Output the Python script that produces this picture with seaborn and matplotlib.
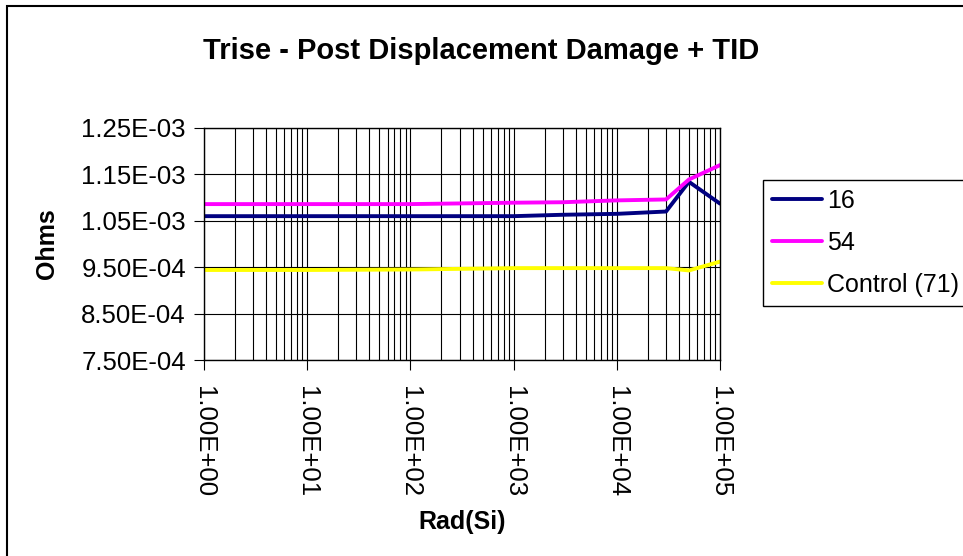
import numpy as np
import pandas as pd
import matplotlib
matplotlib.use('Agg')
import matplotlib.pyplot as plt
import matplotlib.ticker as mticker
from matplotlib.patches import Rectangle
import seaborn as sns

dose = [1, 10, 100, 1000, 3000, 10000, 30000, 50000, 100000]
part_16 = [1.060e-3, 1.060e-3, 1.060e-3, 1.060e-3, 1.063e-3, 1.065e-3, 1.070e-3, 1.134e-3, 1.087e-3]
part_54 = [1.086e-3, 1.086e-3, 1.086e-3, 1.089e-3, 1.090e-3, 1.094e-3, 1.096e-3, 1.139e-3, 1.170e-3]
control_71 = [0.944e-3, 0.944e-3, 0.945e-3, 0.948e-3, 0.948e-3, 0.948e-3, 0.948e-3, 0.943e-3, 0.962e-3]

series_names = ['16', '54', 'Control (71)']
series_colors = ['#000080', '#FF00FF', '#FFFF00']
y_ticks = [7.5e-4, 8.5e-4, 9.5e-4, 1.05e-3, 1.15e-3, 1.25e-3]
x_ticks = [1, 10, 100, 1000, 10000, 100000]

df = pd.concat([
    pd.DataFrame({'dose': dose, 'ohms': vals, 'series': name})
    for name, vals in zip(series_names, [part_16, part_54, control_71])
])

sns.set_style('white')
plt.rcParams['font.family'] = ['Liberation Sans', 'DejaVu Sans']
plt.rcParams['text.color'] = 'black'
plt.rcParams['axes.labelcolor'] = 'black'
plt.rcParams['xtick.color'] = 'black'
plt.rcParams['ytick.color'] = 'black'

fig = plt.figure(figsize=(9.63, 5.56), dpi=100)
ax = fig.add_axes([204 / 963, 1 - 360 / 556, 516 / 963, 232 / 556])

sns.lineplot(data=df, x='dose', y='ohms', hue='series', hue_order=series_names,
             palette=series_colors, linewidth=2.8, ax=ax, legend=False)

ax.set_xscale('log')
ax.set_xlim(1, 1e5)
ax.set_ylim(7.5e-4, 1.25e-3)
ax.set_xticks(x_ticks)
ax.set_xticklabels(['%.2E' % v for v in x_ticks], rotation=-90, fontsize=18.5)
ax.xaxis.set_minor_locator(mticker.LogLocator(base=10, subs=np.arange(2, 10)))
ax.xaxis.set_minor_formatter(mticker.NullFormatter())
ax.set_yticks(y_ticks)
ax.set_yticklabels(['%.2E' % v for v in y_ticks], fontsize=18.5)

ax.grid(True, which='major', axis='both', color='black', linewidth=0.8)
ax.grid(True, which='minor', axis='x', color='black', linewidth=0.8)
ax.tick_params(axis='y', which='major', direction='out', length=7, width=0.8,
               left=True, pad=6)
ax.tick_params(axis='x', which='major', direction='out', length=7, width=0.8,
               bottom=True, pad=12)
ax.tick_params(axis='x', which='minor', length=0)
for s in ax.spines.values():
    s.set_color('black')
    s.set_linewidth(1.0)

ax.set_xlabel('Rad(Si)', fontsize=18, fontweight='bold', labelpad=9)
ax.set_ylabel('Ohms', fontsize=18, fontweight='bold', labelpad=16)

fig.text(0.5, 1 - 51 / 556, 'Trise - Post Displacement Damage + TID',
         ha='center', va='center', fontsize=21, fontweight='bold')

handles = [plt.Line2D([], [], color=c, linewidth=2.8) for c in series_colors]
leg = fig.legend(handles, series_names, loc='upper left',
                 bbox_to_anchor=(763 / 963, 1 - 180 / 556), borderaxespad=0,
                 fontsize=18, frameon=True, fancybox=False, framealpha=1,
                 edgecolor='black', handlelength=2.0, handletextpad=0.2,
                 borderpad=0.35, labelspacing=0.72)
leg.get_frame().set_linewidth(1.0)

# Chart area border (only top and left visible in the picture)
fig.add_artist(Rectangle((7 / 963, -0.5), 2, (1 - 6 / 556) + 0.5,
                         transform=fig.transFigure, fill=False,
                         edgecolor='black', linewidth=1.5))

fig.savefig('out.png', dpi=100)
